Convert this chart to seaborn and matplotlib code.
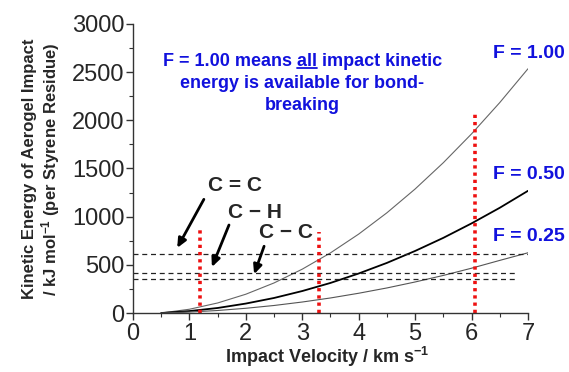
import matplotlib
matplotlib.use("Agg")
import matplotlib.pyplot as plt
from matplotlib.ticker import MultipleLocator
import seaborn as sns
import pandas as pd

# values
velocity = [0.5, 1.0, 1.5, 2.0, 2.5, 3.0, 3.5, 4.0, 4.5, 5.0, 5.5, 6.0, 6.5, 7.0]
ke_f100 = [0, 39, 104, 195, 312, 455, 624, 819, 1040, 1287, 1560, 1859, 2184, 2535]
ke_f050 = [0, 20, 52, 98, 156, 228, 312, 410, 520, 644, 780, 930, 1092, 1268]
ke_f025 = [0, 10, 26, 49, 78, 114, 156, 205, 260, 322, 390, 465, 546, 625]

bond_names = ["C = C", "C \u2212 H", "C \u2212 C"]
bond_energy = [614, 413, 348]
bond_line_end = [7.0, 6.83, 6.83]

red_velocity = [1.18, 3.30, 6.07]
red_top = [870, 845, 2090]

f_labels = ["F = 1.00", "F = 0.50", "F = 0.25"]

sns.set_style("ticks")
plt.rcParams["font.family"] = ["Liberation Sans", "DejaVu Sans"]
plt.rcParams["mathtext.default"] = "regular"

df = pd.DataFrame({"v": velocity, "F100": ke_f100, "F050": ke_f050, "F025": ke_f025})

fig = plt.figure(figsize=(5.69, 3.72), dpi=100)
ax = fig.add_axes([0.2337, 0.1586, 0.6942, 0.777])

sns.lineplot(data=df, x="v", y="F100", ax=ax, color="#666666", lw=0.8)
sns.lineplot(data=df, x="v", y="F050", ax=ax, color="black", lw=1.3)
sns.lineplot(data=df, x="v", y="F025", ax=ax, color="#555555", lw=0.8)

for e, xe in zip(bond_energy, bond_line_end):
    ax.plot([0, xe], [e, e], color="#222222", lw=0.9, ls=(0, (4, 3)))

for xv, top in zip(red_velocity, red_top):
    ax.plot([xv, xv], [0, top], color="#ee1111", lw=2.6, ls=(0, (0.9, 1.1)))

ax.set_xlim(0, 7)
ax.set_ylim(0, 3000)
ax.xaxis.set_major_locator(MultipleLocator(1))
ax.xaxis.set_minor_locator(MultipleLocator(0.5))
ax.yaxis.set_major_locator(MultipleLocator(500))
ax.yaxis.set_minor_locator(MultipleLocator(250))
ax.tick_params(which="major", direction="out", length=5, width=1, labelsize=17, color="#333333")
ax.tick_params(which="minor", direction="out", length=3, width=0.8, color="#333333")
ax.tick_params(axis="x", pad=2)
ax.tick_params(axis="y", pad=1)
for s in ["top", "right"]:
    ax.spines[s].set_visible(False)
for s in ["left", "bottom"]:
    ax.spines[s].set_linewidth(1)
    ax.spines[s].set_color("#333333")
ax.set_xlabel("")
ax.set_ylabel("")

fig.text(0.074, 0.546, "Kinetic Energy of Aerogel Impact\n/ kJ mol$^{-1}$ (per Styrene Residue)",
         rotation=90, ha="center", va="center", fontsize=12, fontweight="bold",
         multialignment="center", linespacing=1.1)
fig.text(0.575, 0.04, "Impact Velocity / km s$^{-1}$", ha="center", va="center",
         fontsize=13, fontweight="bold")

# bond labels with arrows
label_pos = [(1.81, 1320), (2.16, 1045), (2.71, 835)]
arrow_tail = [(1.28, 1205), (1.72, 940), (2.34, 720)]
arrow_head = [(0.76, 650), (1.38, 450), (2.13, 375)]
for name, lp, at, ah in zip(bond_names, label_pos, arrow_tail, arrow_head):
    ax.text(lp[0], lp[1], name, ha="center", va="center", fontsize=15, fontweight="bold")
    ax.annotate("", xy=ah, xytext=at,
                arrowprops=dict(arrowstyle="-|>,head_length=0.55,head_width=0.25",
                                color="black", lw=2))

# F labels on the right
f_y = [2690, 1440, 795]
for lab, fy in zip(f_labels, f_y):
    ax.text(6.38, fy, lab, ha="left", va="center", fontsize=14, fontweight="bold",
            color="#1111dd", clip_on=False)

# blue note with underlined "all"
blue = "#1111dd"
fs_note = 13
line1 = "F = 1.00 means all impact kinetic"
t1 = ax.text(3.0, 2615, line1, ha="center", va="center", fontsize=fs_note,
             fontweight="bold", color=blue)
ax.text(3.0, 2378, "energy is available for bond-", ha="center", va="center",
        fontsize=fs_note, fontweight="bold", color=blue)
ax.text(3.0, 2150, "breaking", ha="center", va="center", fontsize=fs_note,
        fontweight="bold", color=blue)

fig.canvas.draw()
r = fig.canvas.get_renderer()
bb = t1.get_window_extent(r)
pre = fig.text(0, 0, "F = 1.00 means ", fontsize=fs_note, fontweight="bold")
word = fig.text(0, 0, "all", fontsize=fs_note, fontweight="bold")
w_pre = pre.get_window_extent(r).width
w_all = word.get_window_extent(r).width
pre.remove()
word.remove()
x0 = bb.x0 + w_pre
x1 = x0 + w_all
yu = bb.y0 + 1.5
fig.add_artist(plt.Line2D([x0 / fig.bbox.width, x1 / fig.bbox.width],
                          [yu / fig.bbox.height, yu / fig.bbox.height],
                          color=blue, lw=1.3))

fig.savefig("out.png", dpi=100)
